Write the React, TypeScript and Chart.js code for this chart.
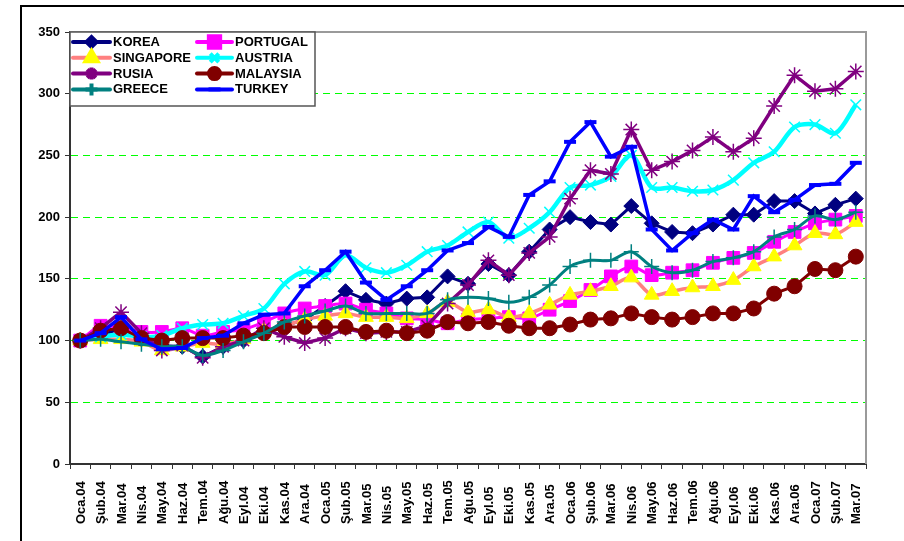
import React, { useEffect, useRef } from 'react';
import { Chart, registerables } from 'chart.js';
import { drawPoint } from 'chart.js/helpers';

Chart.register(...registerables);

const categories = [
  'Oca.04', 'Şub.04', 'Mar.04', 'Nis.04', 'May.04', 'Haz.04', 'Tem.04', 'Ağu.04', 'Eyl.04', 'Eki.04', 'Kas.04', 'Ara.04',
  'Oca.05', 'Şub.05', 'Mar.05', 'Nis.05', 'May.05', 'Haz.05', 'Tem.05', 'Ağu.05', 'Eyl.05', 'Eki.05', 'Kas.05', 'Ara.05',
  'Oca.06', 'Şub.06', 'Mar.06', 'Nis.06', 'May.06', 'Haz.06', 'Tem.06', 'Ağu.06', 'Eyl.06', 'Eki.06', 'Kas.06', 'Ara.06',
  'Oca.07', 'Şub.07', 'Mar.07',
];

const korea = [100, 104, 110, 101, 96, 95, 87, 95, 100, 106, 112, 117, 128, 140, 133, 130, 134, 135, 152, 146, 162, 153, 172, 190, 200, 196, 194, 209, 195, 188, 187, 194, 202, 202, 213, 213, 203, 210, 215];
const portugal = [100, 112, 110, 107, 107, 110, 104, 107, 109, 115, 122, 126, 128, 130, 125, 122, 118, 117, 114, 117, 118, 119, 118, 125, 132, 141, 152, 160, 153, 155, 157, 163, 167, 171, 180, 188, 195, 198, 201];
const singapore = [100, 101, 101, 99, 92, 95, 98, 97, 101, 108, 112, 117, 120, 122, 119, 119, 118, 122, 131, 123, 125, 119, 122, 129, 137, 140, 144, 151, 137, 140, 143, 144, 149, 160, 168, 177, 187, 186, 196];
const austria = [100, 103, 105, 103, 104, 110, 113, 114, 120, 126, 146, 156, 153, 169, 159, 155, 161, 172, 177, 188, 196, 183, 191, 204, 224, 226, 233, 250, 224, 224, 221, 222, 230, 244, 253, 273, 275, 268, 291];
const rusia = [100, 110, 123, 106, 92, 96, 86, 95, 100, 110, 103, 98, 102, 110, 106, 107, 107, 112, 130, 145, 165, 153, 171, 184, 215, 238, 235, 271, 238, 245, 254, 265, 253, 264, 290, 315, 302, 304, 318];
const malaysia = [100, 108, 110, 102, 100, 102, 102, 102, 104, 106, 111, 111, 111, 111, 107, 108, 106, 108, 115, 114, 115, 112, 110, 110, 113, 117, 118, 122, 119, 117, 119, 122, 122, 126, 138, 144, 158, 157, 168];
const greece = [100, 101, 99, 97, 95, 95, 88, 92, 99, 106, 115, 120, 124, 128, 122, 122, 122, 122, 133, 135, 134, 131, 135, 145, 160, 165, 165, 172, 160, 155, 157, 164, 167, 172, 184, 190, 201, 198, 204];
const turkey = [100, 106, 119, 101, 93, 94, 102, 104, 114, 121, 122, 144, 157, 172, 147, 133, 144, 157, 173, 179, 192, 184, 218, 229, 261, 277, 249, 257, 190, 173, 187, 198, 190, 217, 204, 214, 226, 227, 244];

const yTicks = [0, 50, 100, 150, 200, 250, 300, 350];

type Style = {
  line: string; lw: number; point: string; r: number; lr: number;
  fill: string; stroke: string; pbw: number; tension: number;
};

const series: { name: string; data: number[]; style: Style }[] = [
  { name: 'KOREA', data: korea, style: { line: '#000080', lw: 3, point: 'rectRot', r: 7.5, lr: 5, fill: '#000080', stroke: '#000080', pbw: 1, tension: 0 } },
  { name: 'PORTUGAL', data: portugal, style: { line: '#FF00FF', lw: 3, point: 'rect', r: 9, lr: 8, fill: '#FF00FF', stroke: '#FF00FF', pbw: 1, tension: 0.3 } },
  { name: 'SINGAPORE', data: singapore, style: { line: '#FF8080', lw: 3.5, point: 'triangle', r: 8.5, lr: 7, fill: '#FFFF00', stroke: '#FFFF00', pbw: 1, tension: 0.3 } },
  { name: 'AUSTRIA', data: austria, style: { line: '#00FFFF', lw: 4.5, point: 'crossRot', r: 7.5, lr: 6, fill: '#00FFFF', stroke: '#00FFFF', pbw: 1.5, tension: 0.3 } },
  { name: 'RUSIA', data: rusia, style: { line: '#800080', lw: 3.5, point: 'star', r: 8, lr: 6, fill: '#800080', stroke: '#800080', pbw: 1.5, tension: 0 } },
  { name: 'MALAYSIA', data: malaysia, style: { line: '#800000', lw: 3, point: 'circle', r: 7.5, lr: 5.5, fill: '#800000', stroke: '#800000', pbw: 1, tension: 0 } },
  { name: 'GREECE', data: greece, style: { line: '#008080', lw: 3, point: 'cross', r: 7.5, lr: 6, fill: '#008080', stroke: '#008080', pbw: 1.5, tension: 0.3 } },
  { name: 'TURKEY', data: turkey, style: { line: '#0000FF', lw: 3.5, point: 'line', r: 6, lr: 6, fill: '#0000FF', stroke: '#0000FF', pbw: 4, tension: 0 } },
];

const FONT = '"Liberation Sans", Arial, Helvetica, sans-serif';

const overlayPlugin = {
  id: 'overlay',
  afterDraw(chart: any) {
    const { ctx, chartArea: a, scales } = chart;
    ctx.save();
    // plot-area frame (top & right)
    ctx.strokeStyle = '#9a9a9a';
    ctx.lineWidth = 2;
    ctx.beginPath();
    ctx.moveTo(a.left, a.top);
    ctx.lineTo(a.right, a.top);
    ctx.lineTo(a.right, a.bottom);
    ctx.stroke();

    // x labels, rotated, aligned at the bottom
    const xs = scales.x;
    ctx.fillStyle = '#000';
    ctx.font = `bold 13px ${FONT}`;
    ctx.textAlign = 'left';
    ctx.textBaseline = 'middle';
    categories.forEach((c, i) => {
      const x = xs.getPixelForValue(i);
      ctx.save();
      ctx.translate(x + 1, xs.top + 60);
      ctx.rotate(-Math.PI / 2);
      ctx.fillText(c, 0, 0);
      ctx.restore();
    });

    // legend box
    const bx = a.left, by = a.top, bw = 245, bh = 74;
    ctx.fillStyle = '#fff';
    ctx.fillRect(bx, by, bw, bh);
    ctx.strokeStyle = '#555';
    ctx.lineWidth = 1.5;
    ctx.strokeRect(bx, by, bw, bh);
    const cols = [{ l0: bx + 3, l1: bx + 40, t: bx + 43 }, { l0: bx + 127, l1: bx + 162, t: bx + 165 }];
    series.forEach((s, i) => {
      const col = cols[i % 2];
      const row = Math.floor(i / 2);
      const y = by + 10 + row * 15.8;
      ctx.strokeStyle = s.style.line;
      ctx.lineWidth = 4;
      ctx.lineCap = 'round';
      ctx.beginPath();
      ctx.moveTo(col.l0, y);
      ctx.lineTo(col.l1, y);
      ctx.stroke();
      ctx.lineCap = 'butt';
      ctx.fillStyle = s.style.fill;
      ctx.strokeStyle = s.style.stroke;
      drawPoint(ctx, { pointStyle: s.style.point, radius: s.style.lr, borderWidth: s.style.pbw, rotation: 0 } as any, (col.l0 + col.l1) / 2, y);
      ctx.fillStyle = '#000';
      ctx.font = `bold 13px ${FONT}`;
      ctx.textAlign = 'left';
      ctx.textBaseline = 'middle';
      ctx.fillText(s.name, col.t, y + 0.5);
    });
    ctx.restore();
  },
};

export default function App() {
  const ref = useRef<HTMLCanvasElement | null>(null);
  useEffect(() => {
    if (!ref.current) return;
    const n = series.length;
    const chart = new Chart(ref.current, {
      type: 'line',
      data: {
        labels: categories,
        datasets: series.map((s, i) => ({
          label: s.name,
          data: s.data,
          order: n - 1 - i,
          borderColor: s.style.line,
          borderWidth: s.style.lw,
          backgroundColor: s.style.fill,
          pointStyle: s.style.point as any,
          pointRadius: s.style.r,
          pointHoverRadius: s.style.r,
          pointBackgroundColor: s.style.fill,
          pointBorderColor: s.style.stroke,
          pointBorderWidth: s.style.pbw,
          tension: s.style.tension,
          fill: false,
        })),
      },
      options: {
        responsive: false,
        animation: false,
        events: [],
        layout: { padding: { top: 32, right: 38, left: 0, bottom: 0 } },
        plugins: { legend: { display: false }, tooltip: { enabled: false }, title: { display: false } },
        scales: {
          x: {
            type: 'category',
            offset: true,
            grid: { display: true, drawOnChartArea: false, drawTicks: true, tickLength: 5, tickColor: '#333', offset: true },
            border: { display: true, color: '#333', width: 2 },
            ticks: { display: false, autoSkip: false },
            afterFit: (s: any) => { s.height = 77; },
          },
          y: {
            min: yTicks[0],
            max: yTicks[yTicks.length - 1],
            afterBuildTicks: (s: any) => { s.ticks = yTicks.map((v) => ({ value: v })); },
            ticks: { padding: 5, color: '#000', font: { family: FONT, size: 13, weight: 'bold' } },
            grid: {
              color: (c: any) => (c.tick && (c.tick.value === 0 || c.tick.value === 350) ? 'rgba(0,0,0,0)' : '#00ff00'),
              lineWidth: 1,
              drawTicks: true,
              tickLength: 5,
              tickColor: '#333',
              tickBorderDash: [],
            },
            border: { display: true, color: '#333', width: 2, dash: [7, 5] },
            afterFit: (s: any) => { s.width = 70; },
          },
        },
      } as any,
      plugins: [overlayPlugin],
    });
    return () => chart.destroy();
  }, []);

  return (
    <div style={{ position: 'fixed', left: 0, top: 0, width: 904, height: 541, background: '#fff', overflow: 'hidden' }}>
      <div style={{ position: 'absolute', left: 20, top: 5, width: 900, height: 560, borderLeft: '2px solid #000', borderTop: '2px solid #000' }} />
      <canvas ref={ref} width={904} height={541} style={{ position: 'absolute', left: 0, top: 0 }} />
    </div>
  );
}
